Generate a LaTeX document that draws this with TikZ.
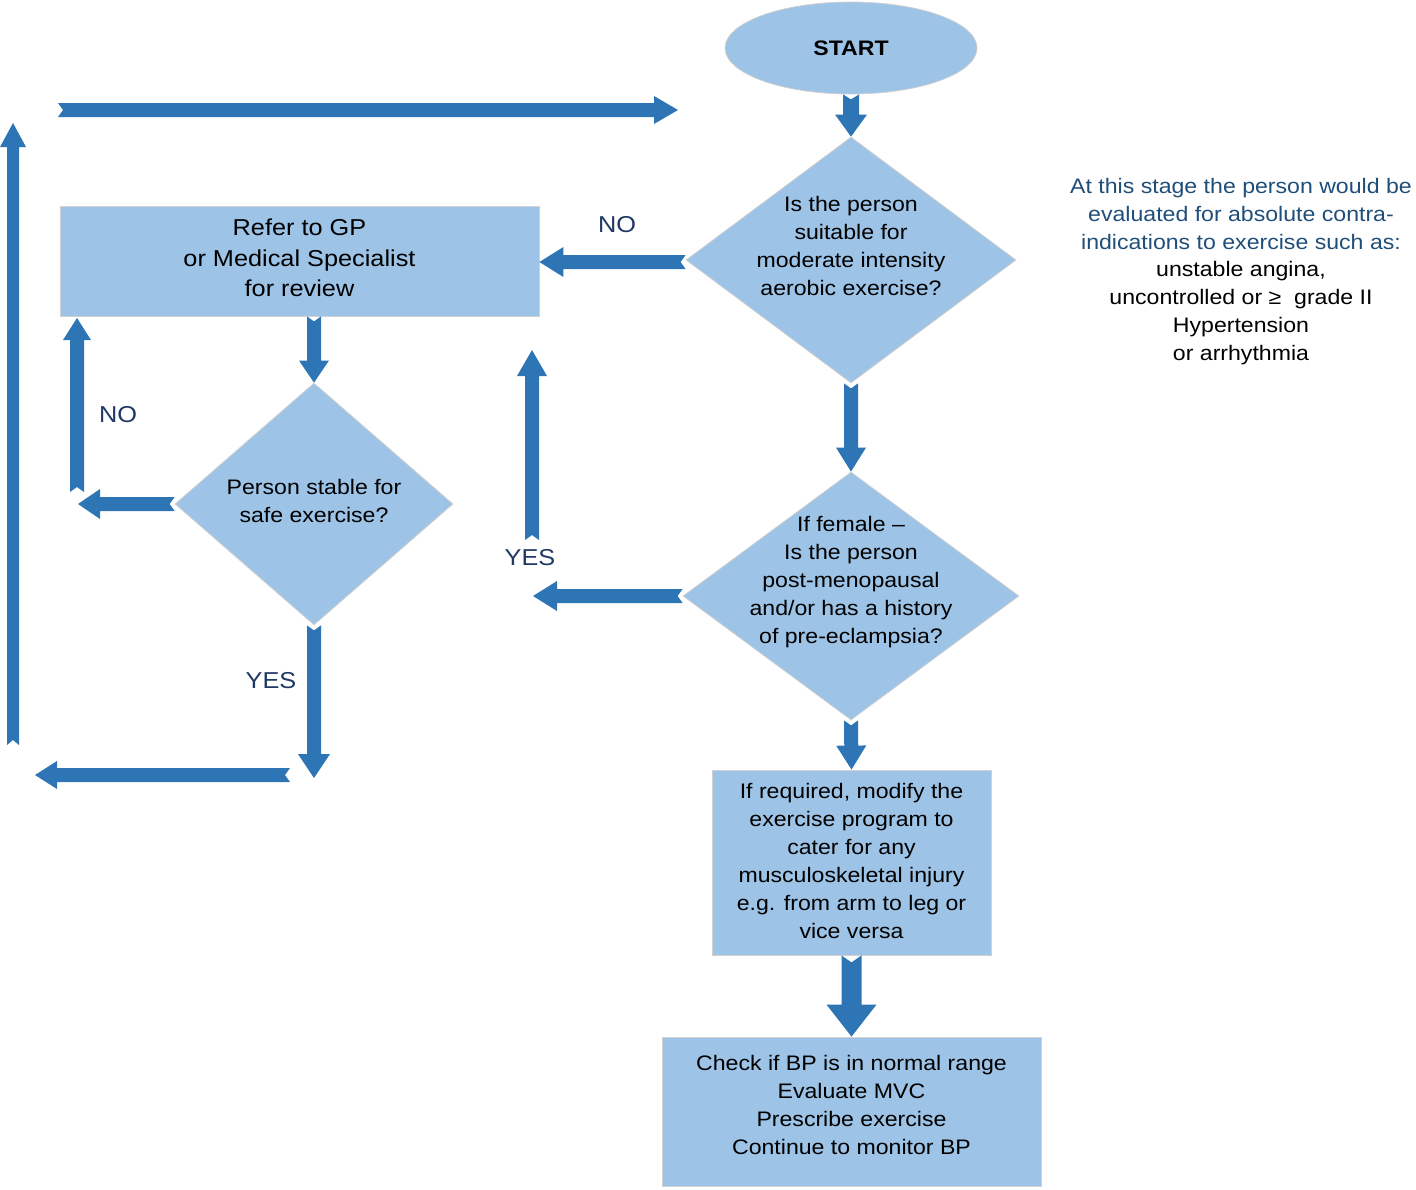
\documentclass[tikz,border=0pt]{standalone}
\usepackage{fontspec}
\setmainfont{Liberation Sans}[FakeStretch=1.1]
\usetikzlibrary{shapes.geometric,calc}
\definecolor{boxfill}{HTML}{9DC3E6}
\definecolor{arrowc}{HTML}{2E75B6}
\definecolor{navy}{HTML}{1F3864}
\definecolor{annblue}{HTML}{1F4E79}
\tikzset{
  shape base/.style={fill=boxfill, draw=black!18, line width=0.8pt, inner sep=0pt},
  flowbox/.style={shape base, rectangle},
  decision/.style={shape base, diamond},
  terminal/.style={shape base, ellipse},
  txt/.style={align=center, font=\fontsize{21}{28}\selectfont, inner sep=0pt},
  lbl/.style={font=\fontsize{23}{26}\selectfont, text=navy, inner sep=0pt},
}
% block arrow: #1 from, #2 to, #3 half shaft, #4 half head, #5 head length, #6 notch depth
\newcommand\barw[6]{%
  \path ($(#2)!#5!(#1)$) coordinate (bw-h) ($(#1)!#6!(#2)$) coordinate (bw-n);
  \fill[arrowc] ($(#1)!#3!90:(#2)$) -- ($(bw-h)!#3!90:(#2)$) -- ($(bw-h)!#4!90:(#2)$)
    -- (#2) -- ($(bw-h)!#4!-90:(#2)$) -- ($(bw-h)!#3!-90:(#2)$) -- ($(#1)!#3!-90:(#2)$)
    -- (bw-n) -- cycle;}
\begin{document}
\begin{tikzpicture}[x=1pt,y=-1pt]
\useasboundingbox (0,0) rectangle (1416,1189);

% shapes
\node[terminal, minimum width=252pt, minimum height=92pt] (start) at (851,48) {};
\node[font=\fontsize{21}{24}\selectfont\bfseries] (startt) at (start.center) {START};
\node[decision, minimum width=330pt, minimum height=246pt] (d1) at (851,260) {};
\node[txt] (d1t) at ([yshift=14pt]d1.center) {Is the person\\suitable for\\moderate intensity\\aerobic exercise?};
\node[flowbox, minimum width=479pt, minimum height=110pt] (refer) at (299.5,261) {};
\node[txt, font=\fontsize{23}{30.5}\selectfont] (refert) at ([yshift=3pt]refer.center) {Refer to GP\\or Medical Specialist\\for review};
\node[decision, minimum width=336pt, minimum height=248pt] (d2) at (851,596) {};
\node[txt] (d2t) at ([yshift=14pt]d2.center) {If female --\\Is the person\\post-menopausal\\and/or has a history\\of pre-eclampsia?};
\node[decision, minimum width=278pt, minimum height=242pt] (d3) at (314,504) {};
\node[txt] (d3t) at ([yshift=3pt]d3.center) {Person stable for\\safe exercise?};
\node[flowbox, minimum width=279pt, minimum height=185pt] (box3) at (851.5,862.5) {};
\node[txt] (box3t) at ([yshift=2pt]box3.center) {If required, modify the\\exercise program to\\cater for any\\musculoskeletal injury\\e.g. from arm to leg or\\vice versa};
\node[flowbox, minimum width=379pt, minimum height=149pt] (box4) at (851.5,1111.5) {};
\node[txt] (box4t) at ([yshift=7pt]box4.center) {Check if BP is in normal range\\Evaluate MVC\\Prescribe exercise\\Continue to monitor BP};

% annotation
\node[txt, text=annblue] (ann1) at (1241,214) {At this stage the person would be\\evaluated for absolute contra-\\indications to exercise such as:};
\node[txt] (ann2) at (1241,313) {unstable angina,\\uncontrolled or ≥\ \ grade II\\Hypertension\\or arrhythmia};

% labels
\node[lbl] (no1) at (617,225) {NO};
\node[lbl] (no2) at (118,415) {NO};
\node[lbl] (yes1) at (530,558) {YES};
\node[lbl] (yes2) at (271,681) {YES};

% free-end coordinates
\coordinate (r1) at (refer.south -| d3.north);
\coordinate (a2tip) at (d2.west -| 533,0);
\coordinate (up1s) at (532,540);
\coordinate (up1t) at (532,350);
\coordinate (a3tip) at (d3.west -| 78,0);
\coordinate (up2s) at (77,492);
\coordinate (up2t) at (77,318);
\coordinate (ydn) at (d3.south |- 0,778);
\coordinate (lfs) at (290,775);
\coordinate (lft) at (35,775);
\coordinate (up3s) at (13,745);
\coordinate (up3t) at (13,123);
\coordinate (rts) at (58,110);
\coordinate (rtt) at (678,110);
\coordinate (d1w) at ([yshift=-2pt]d1.west);
\coordinate (rfe) at (d1w -| refer.east);

% arrows
\barw{start.south}{d1.north}{8pt}{16pt}{22pt}{5pt}
\barw{d1w}{rfe}{7pt}{15pt}{24pt}{5pt}
\barw{d1.south}{d2.north}{7pt}{15pt}{24pt}{5pt}
\barw{d2.west}{a2tip}{7pt}{15pt}{24pt}{5pt}
\barw{up1s}{up1t}{7pt}{15pt}{26pt}{5pt}
\barw{d2.south}{box3.north}{7pt}{15pt}{24pt}{5pt}
\barw{box3.south}{box4.north}{10pt}{25pt}{32pt}{7pt}
\barw{r1}{d3.north}{7pt}{15pt}{22pt}{5pt}
\barw{d3.west}{a3tip}{7pt}{15pt}{22pt}{5pt}
\barw{up2s}{up2t}{7pt}{14pt}{22pt}{5pt}
\barw{d3.south}{ydn}{7pt}{16pt}{24pt}{5pt}
\barw{lfs}{lft}{7pt}{14pt}{22pt}{5pt}
\barw{up3s}{up3t}{6pt}{13pt}{24pt}{5pt}
\barw{rts}{rtt}{7pt}{14pt}{24pt}{5pt}
\end{tikzpicture}
\end{document}
